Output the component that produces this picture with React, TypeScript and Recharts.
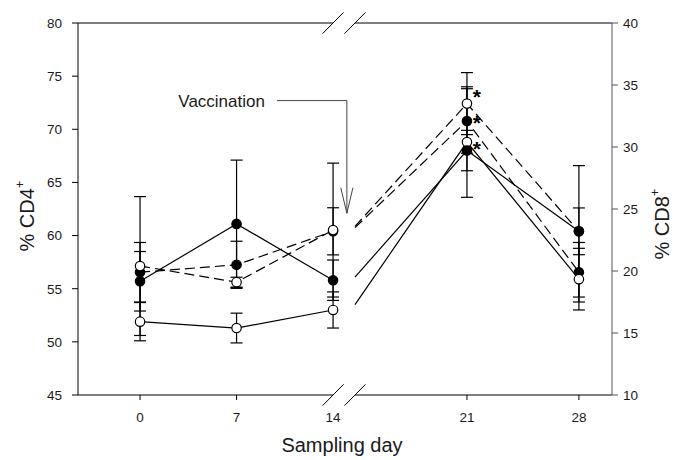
import { LineChart, Line, XAxis, YAxis, ErrorBar, ReferenceLine, ReferenceDot } from 'recharts';

const FONT = 'Arial, "Liberation Sans", Helvetica, sans-serif';

// sampling days on each side of the axis break
const EARLY_DAYS = [0, 7, 14];
const LATE_DAYS = [14, 21, 28];
const TICK_DAYS = [0, 7, 14, 21, 28];

// % CD4+ (left axis) - solid lines
const CD4_FILLED_EARLY = [55.7, 61.1, 55.8];
const CD4_FILLED_EARLY_SD = [2.8, 6.0, 1.9];
const CD4_OPEN_EARLY = [51.9, 51.3, 53.0];
const CD4_OPEN_EARLY_SD = [1.8, 1.4, 1.7];
const CD4_FILLED_LATE = [56.1, 68.0, 60.4];
const CD4_FILLED_LATE_SD = [0, 1.9, 2.2];
const CD4_OPEN_LATE = [53.5, 68.8, 55.9];
const CD4_OPEN_LATE_SD = [0, 5.2, 2.9];

// % CD8+ (right axis) - dashed lines
const CD8_FILLED_EARLY = [19.9, 20.5, 23.2];
const CD8_FILLED_EARLY_SD = [2.4, 1.9, 1.9];
const CD8_OPEN_EARLY = [20.4, 19.1, 23.3];
const CD8_OPEN_EARLY_SD = [5.6, 0.4, 5.4];
const CD8_FILLED_LATE = [23.5, 32.1, 19.9];
const CD8_FILLED_LATE_SD = [0, 2.6, 2.4];
const CD8_OPEN_LATE = [23.6, 33.5, 23.2];
const CD8_OPEN_LATE_SD = [0, 2.5, 5.3];

// asterisks next to day 21 (% CD8+ units)
const STAR_LEVELS = [34.5, 32.4, 30.3];

// broken x axis: left part in day units, right part restarts after the gap, a bit stretched
const U_MIN = -4.5;
const U_MAX = 34.23;
const RIGHT_START = 15.59;
const RIGHT_STRETCH = 1.16;
const toU = (day: number, late: boolean) => (late ? RIGHT_START + (day - 14) * RIGHT_STRETCH : day);
const TICK_U = TICK_DAYS.map((d) => toU(d, d > 14));

const series = (days: number[], vals: number[], sds: number[], late: boolean) =>
  days.map((d, i) => ({ u: toU(d, late), v: vals[i], e: sds[i] }));

// vaccination arrow, in left-axis units
const ARROW_U = 15.0;
const ARROW_TAIL_U = 9.93;
const ARROW_TOP = 72.7;
const ARROW_TIP = 62.1;
const ARROW_HEAD = 64.5;
const ARROW_HEAD_HALF = 0.44;

const BREAK_HALF_U = 0.76;
const BREAK_HALF_Y = 1.0;

const marker = (filled: boolean, skipFirst: boolean) => (props: any) => {
  const { cx, cy, index } = props;
  if ((skipFirst && index === 0) || cx == null || cy == null) return <g key={`m-${index}`} />;
  return (
    <circle key={`m-${index}`} cx={cx} cy={cy} r={4.7} fill={filled ? '#000' : '#fff'} stroke="#000" strokeWidth={1.2} />
  );
};

const XTick = (props: any) => {
  const { x, y, payload } = props;
  const i = TICK_U.findIndex((t) => Math.abs(t - payload.value) < 1e-6);
  const label = String(TICK_DAYS[i]);
  return (
    <g>
      {label !== '14' && <line x1={x} x2={x} y1={y - 17} y2={y - 12} stroke="#000" strokeWidth={1} />}
      <text x={x} y={y} dy="0.71em" textAnchor="middle" fontSize={13.5} fill="#1a1a1a" fontFamily={FONT}>
        {label}
      </text>
    </g>
  );
};

const YTitle = (x: number, y: number, text: string) => () => (
  <text transform={`translate(${x},${y}) rotate(-90)`} textAnchor="middle" fontSize={20} fill="#1a1a1a" fontFamily={FONT}>
    {text}
    <tspan fontSize={13} dy={-10}>+</tspan>
  </text>
);

const XTitle = () => (
  <text x={342} y={452} textAnchor="middle" fontSize={20} fill="#1a1a1a" fontFamily={FONT}>
    Sampling day
  </text>
);

const Star = (props: any) => {
  const { viewBox } = props;
  return (
    <text x={viewBox.x + 10} y={viewBox.y + 13} textAnchor="middle" fontSize={21} fontWeight="bold" fill="#000" fontFamily={FONT}>
      *
    </text>
  );
};

const VaccLabel = (props: any) => {
  const { viewBox } = props;
  return (
    <text x={viewBox.x - 12} y={viewBox.y + 6} textAnchor="end" fontSize={17} fill="#1a1a1a" fontFamily={FONT}>
      Vaccination
    </text>
  );
};

export default function App() {
  const seg = (x1: number, y1: number, x2: number, y2: number, key: string, color = '#000') => (
    <ReferenceLine
      key={key}
      yAxisId="left"
      segment={[{ x: x1, y: y1 }, { x: x2, y: y2 }]}
      stroke={color}
      strokeWidth={1}
      ifOverflow="visible"
    />
  );

  const breaks = [14, RIGHT_START].flatMap((c) =>
    [45, 80].map((yv) => seg(c - BREAK_HALF_U, yv - BREAK_HALF_Y, c + BREAK_HALF_U, yv + BREAK_HALF_Y, `b-${c}-${yv}`))
  );

  return (
    <div style={{ position: 'absolute', left: 0, top: 0 }}>
      <LineChart width={675} height={460} margin={{ top: 23, right: 0, bottom: 0, left: 0 }}>
        <XAxis
          type="number"
          dataKey="u"
          domain={[U_MIN, U_MAX]}
          allowDataOverflow
          ticks={TICK_U}
          interval={0}
          height={65}
          axisLine={false}
          tickLine={false}
          tickSize={5}
          tickMargin={12}
          tick={<XTick />}
          label={XTitle}
        />
        <YAxis
          yAxisId="left"
          domain={[45, 80]}
          allowDataOverflow
          ticks={[45, 50, 55, 60, 65, 70, 75, 80]}
          interval={0}
          width={78}
          stroke="#000"
          tickSize={6}
          tickMargin={10}
          tick={{ fontSize: 13.5, fill: '#1a1a1a', fontFamily: FONT }}
          label={YTitle(34, 216, '% CD4')}
        />
        <YAxis
          yAxisId="right"
          orientation="right"
          domain={[10, 40]}
          allowDataOverflow
          ticks={[10, 15, 20, 25, 30, 35, 40]}
          interval={0}
          width={63}
          stroke="#555"
          tickSize={6}
          tickMargin={5}
          tick={{ fontSize: 13.5, fill: '#1a1a1a', fontFamily: FONT }}
          label={YTitle(669, 224, '% CD8')}
        />

        {seg(U_MIN, 80, 14, 80, 'top-l')}
        {seg(RIGHT_START, 80, U_MAX, 80, 'top-r')}
        {seg(U_MIN, 45, 14, 45, 'bot-l')}
        {seg(RIGHT_START, 45, U_MAX, 45, 'bot-r')}
        {breaks}

        {seg(ARROW_TAIL_U, ARROW_TOP, ARROW_U, ARROW_TOP, 'a-h', '#444')}
        {seg(ARROW_U, ARROW_TOP, ARROW_U, ARROW_TIP, 'a-v', '#444')}
        {seg(ARROW_U - ARROW_HEAD_HALF, ARROW_HEAD, ARROW_U, ARROW_TIP, 'a-l', '#444')}
        {seg(ARROW_U + ARROW_HEAD_HALF, ARROW_HEAD, ARROW_U, ARROW_TIP, 'a-r', '#444')}
        <ReferenceDot yAxisId="left" x={ARROW_TAIL_U} y={ARROW_TOP} r={0} ifOverflow="visible" label={<VaccLabel />} />

        {/* days 0-14 */}
        <Line yAxisId="right" data={series(EARLY_DAYS, CD8_FILLED_EARLY, CD8_FILLED_EARLY_SD, false)} dataKey="v" stroke="#000" strokeWidth={1.2} strokeDasharray="10 5" dot={marker(true, false)} isAnimationActive={false}>
          <ErrorBar dataKey="e" direction="y" width={6} stroke="#000" strokeWidth={1.2} isAnimationActive={false} />
        </Line>
        <Line yAxisId="right" data={series(EARLY_DAYS, CD8_OPEN_EARLY, CD8_OPEN_EARLY_SD, false)} dataKey="v" stroke="#000" strokeWidth={1.2} strokeDasharray="10 5" dot={marker(false, false)} isAnimationActive={false}>
          <ErrorBar dataKey="e" direction="y" width={6} stroke="#000" strokeWidth={1.2} isAnimationActive={false} />
        </Line>
        <Line yAxisId="left" data={series(EARLY_DAYS, CD4_FILLED_EARLY, CD4_FILLED_EARLY_SD, false)} dataKey="v" stroke="#000" strokeWidth={1.2} dot={marker(true, false)} isAnimationActive={false}>
          <ErrorBar dataKey="e" direction="y" width={6} stroke="#000" strokeWidth={1.2} isAnimationActive={false} />
        </Line>
        <Line yAxisId="left" data={series(EARLY_DAYS, CD4_OPEN_EARLY, CD4_OPEN_EARLY_SD, false)} dataKey="v" stroke="#000" strokeWidth={1.2} dot={marker(false, false)} isAnimationActive={false}>
          <ErrorBar dataKey="e" direction="y" width={6} stroke="#000" strokeWidth={1.2} isAnimationActive={false} />
        </Line>

        {/* days 14-28 after the break */}
        <Line yAxisId="right" data={series(LATE_DAYS, CD8_OPEN_LATE, CD8_OPEN_LATE_SD, true)} dataKey="v" stroke="#000" strokeWidth={1.2} strokeDasharray="10 5" dot={marker(false, true)} isAnimationActive={false}>
          <ErrorBar dataKey="e" direction="y" width={6} stroke="#000" strokeWidth={1.2} isAnimationActive={false} />
        </Line>
        <Line yAxisId="right" data={series(LATE_DAYS, CD8_FILLED_LATE, CD8_FILLED_LATE_SD, true)} dataKey="v" stroke="#000" strokeWidth={1.2} strokeDasharray="10 5" dot={marker(true, true)} isAnimationActive={false}>
          <ErrorBar dataKey="e" direction="y" width={6} stroke="#000" strokeWidth={1.2} isAnimationActive={false} />
        </Line>
        <Line yAxisId="left" data={series(LATE_DAYS, CD4_OPEN_LATE, CD4_OPEN_LATE_SD, true)} dataKey="v" stroke="#000" strokeWidth={1.2} dot={marker(false, true)} isAnimationActive={false}>
          <ErrorBar dataKey="e" direction="y" width={6} stroke="#000" strokeWidth={1.2} isAnimationActive={false} />
        </Line>
        <Line yAxisId="left" data={series(LATE_DAYS, CD4_FILLED_LATE, CD4_FILLED_LATE_SD, true)} dataKey="v" stroke="#000" strokeWidth={1.2} dot={marker(true, true)} isAnimationActive={false}>
          <ErrorBar dataKey="e" direction="y" width={6} stroke="#000" strokeWidth={1.2} isAnimationActive={false} />
        </Line>

        {STAR_LEVELS.map((lv, i) => (
          <ReferenceDot key={`s-${i}`} yAxisId="right" x={toU(21, true)} y={lv} r={0} ifOverflow="visible" label={<Star />} />
        ))}
      </LineChart>
    </div>
  );
}
